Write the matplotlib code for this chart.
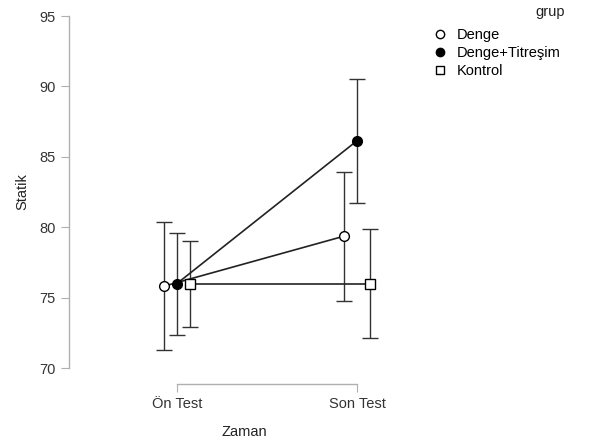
import numpy as np
import matplotlib
matplotlib.use("Agg")
import matplotlib.pyplot as plt

plt.rcParams['font.family'] = ['Liberation Sans', 'DejaVu Sans']

# data
zaman = ["Ön Test", "Son Test"]
gruplar = ["Denge", "Denge+Titreşim", "Kontrol"]
ortalama = {
    "Denge": [75.82, 79.37],
    "Denge+Titreşim": [76.0, 86.14],
    "Kontrol": [76.0, 76.0],
}
alt = {
    "Denge": [71.3, 74.78],
    "Denge+Titreşim": [72.34, 81.74],
    "Kontrol": [72.93, 72.1],
}
ust = {
    "Denge": [80.37, 83.95],
    "Denge+Titreşim": [79.57, 90.53],
    "Kontrol": [79.04, 79.87],
}

dodge = {"Denge": -0.07, "Denge+Titreşim": 0.0, "Kontrol": 0.07}
stil = {
    "Denge": dict(marker="o", mfc="white", mec="black"),
    "Denge+Titreşim": dict(marker="o", mfc="black", mec="black"),
    "Kontrol": dict(marker="s", mfc="white", mec="black"),
}

fig = plt.figure(figsize=(6.14, 4.41), dpi=100)
ax = fig.add_axes([69 / 614, 1 - 368 / 441, (420 - 69) / 614, (368 - 16) / 441])

x = np.arange(len(zaman))
for g in gruplar:
    xs = x + dodge[g]
    m = np.array(ortalama[g])
    yerr = [m - np.array(alt[g]), np.array(ust[g]) - m]
    ax.errorbar(xs, m, yerr=yerr, fmt="none", ecolor="#333333", elinewidth=1.0,
                capsize=6, capthick=1.0, zorder=2)
    ax.plot(xs, m, color="#222222", lw=1.2, ms=7, mew=1.0, zorder=3,
            label=g, **stil[g])

ax.set_xlim(-0.6, 1.35)
ax.set_ylim(70, 95)
ax.set_xticks(x)
ax.set_xticklabels(zaman)
ax.set_yticks([70, 75, 80, 85, 90, 95])

for s in ["top", "right"]:
    ax.spines[s].set_visible(False)
ax.spines["left"].set_bounds(70, 95)
ax.spines["bottom"].set_bounds(0, 1)
ax.spines["bottom"].set_position(("outward", 11.5))
for s in ["left", "bottom"]:
    ax.spines[s].set_color("#b0b0b0")
    ax.spines[s].set_linewidth(1.0)
ax.tick_params(colors="#b0b0b0", labelcolor="#333333", labelsize=10.5, length=6)

ax.set_xlabel("Zaman", fontsize=10.5, color="#222222", labelpad=10)
ax.set_ylabel("Statik", fontsize=10.5, color="#222222", labelpad=7)

fig.text(565 / 614, 1 - 12 / 441, "grup", ha="right", va="center",
         fontsize=10.5, color="#222222")
leg = ax.legend(loc="upper left", bbox_to_anchor=(433 / 614, 1 - 25 / 441),
                bbox_transform=fig.transFigure, frameon=False, fontsize=10.5,
                handlelength=0.6, handletextpad=0.8, labelspacing=0.28,
                borderaxespad=0.0, borderpad=0.2)
for h in leg.legend_handles:
    h.set_linestyle("none")
    h.set_markersize(6)

fig.savefig("out.png", dpi=100)
